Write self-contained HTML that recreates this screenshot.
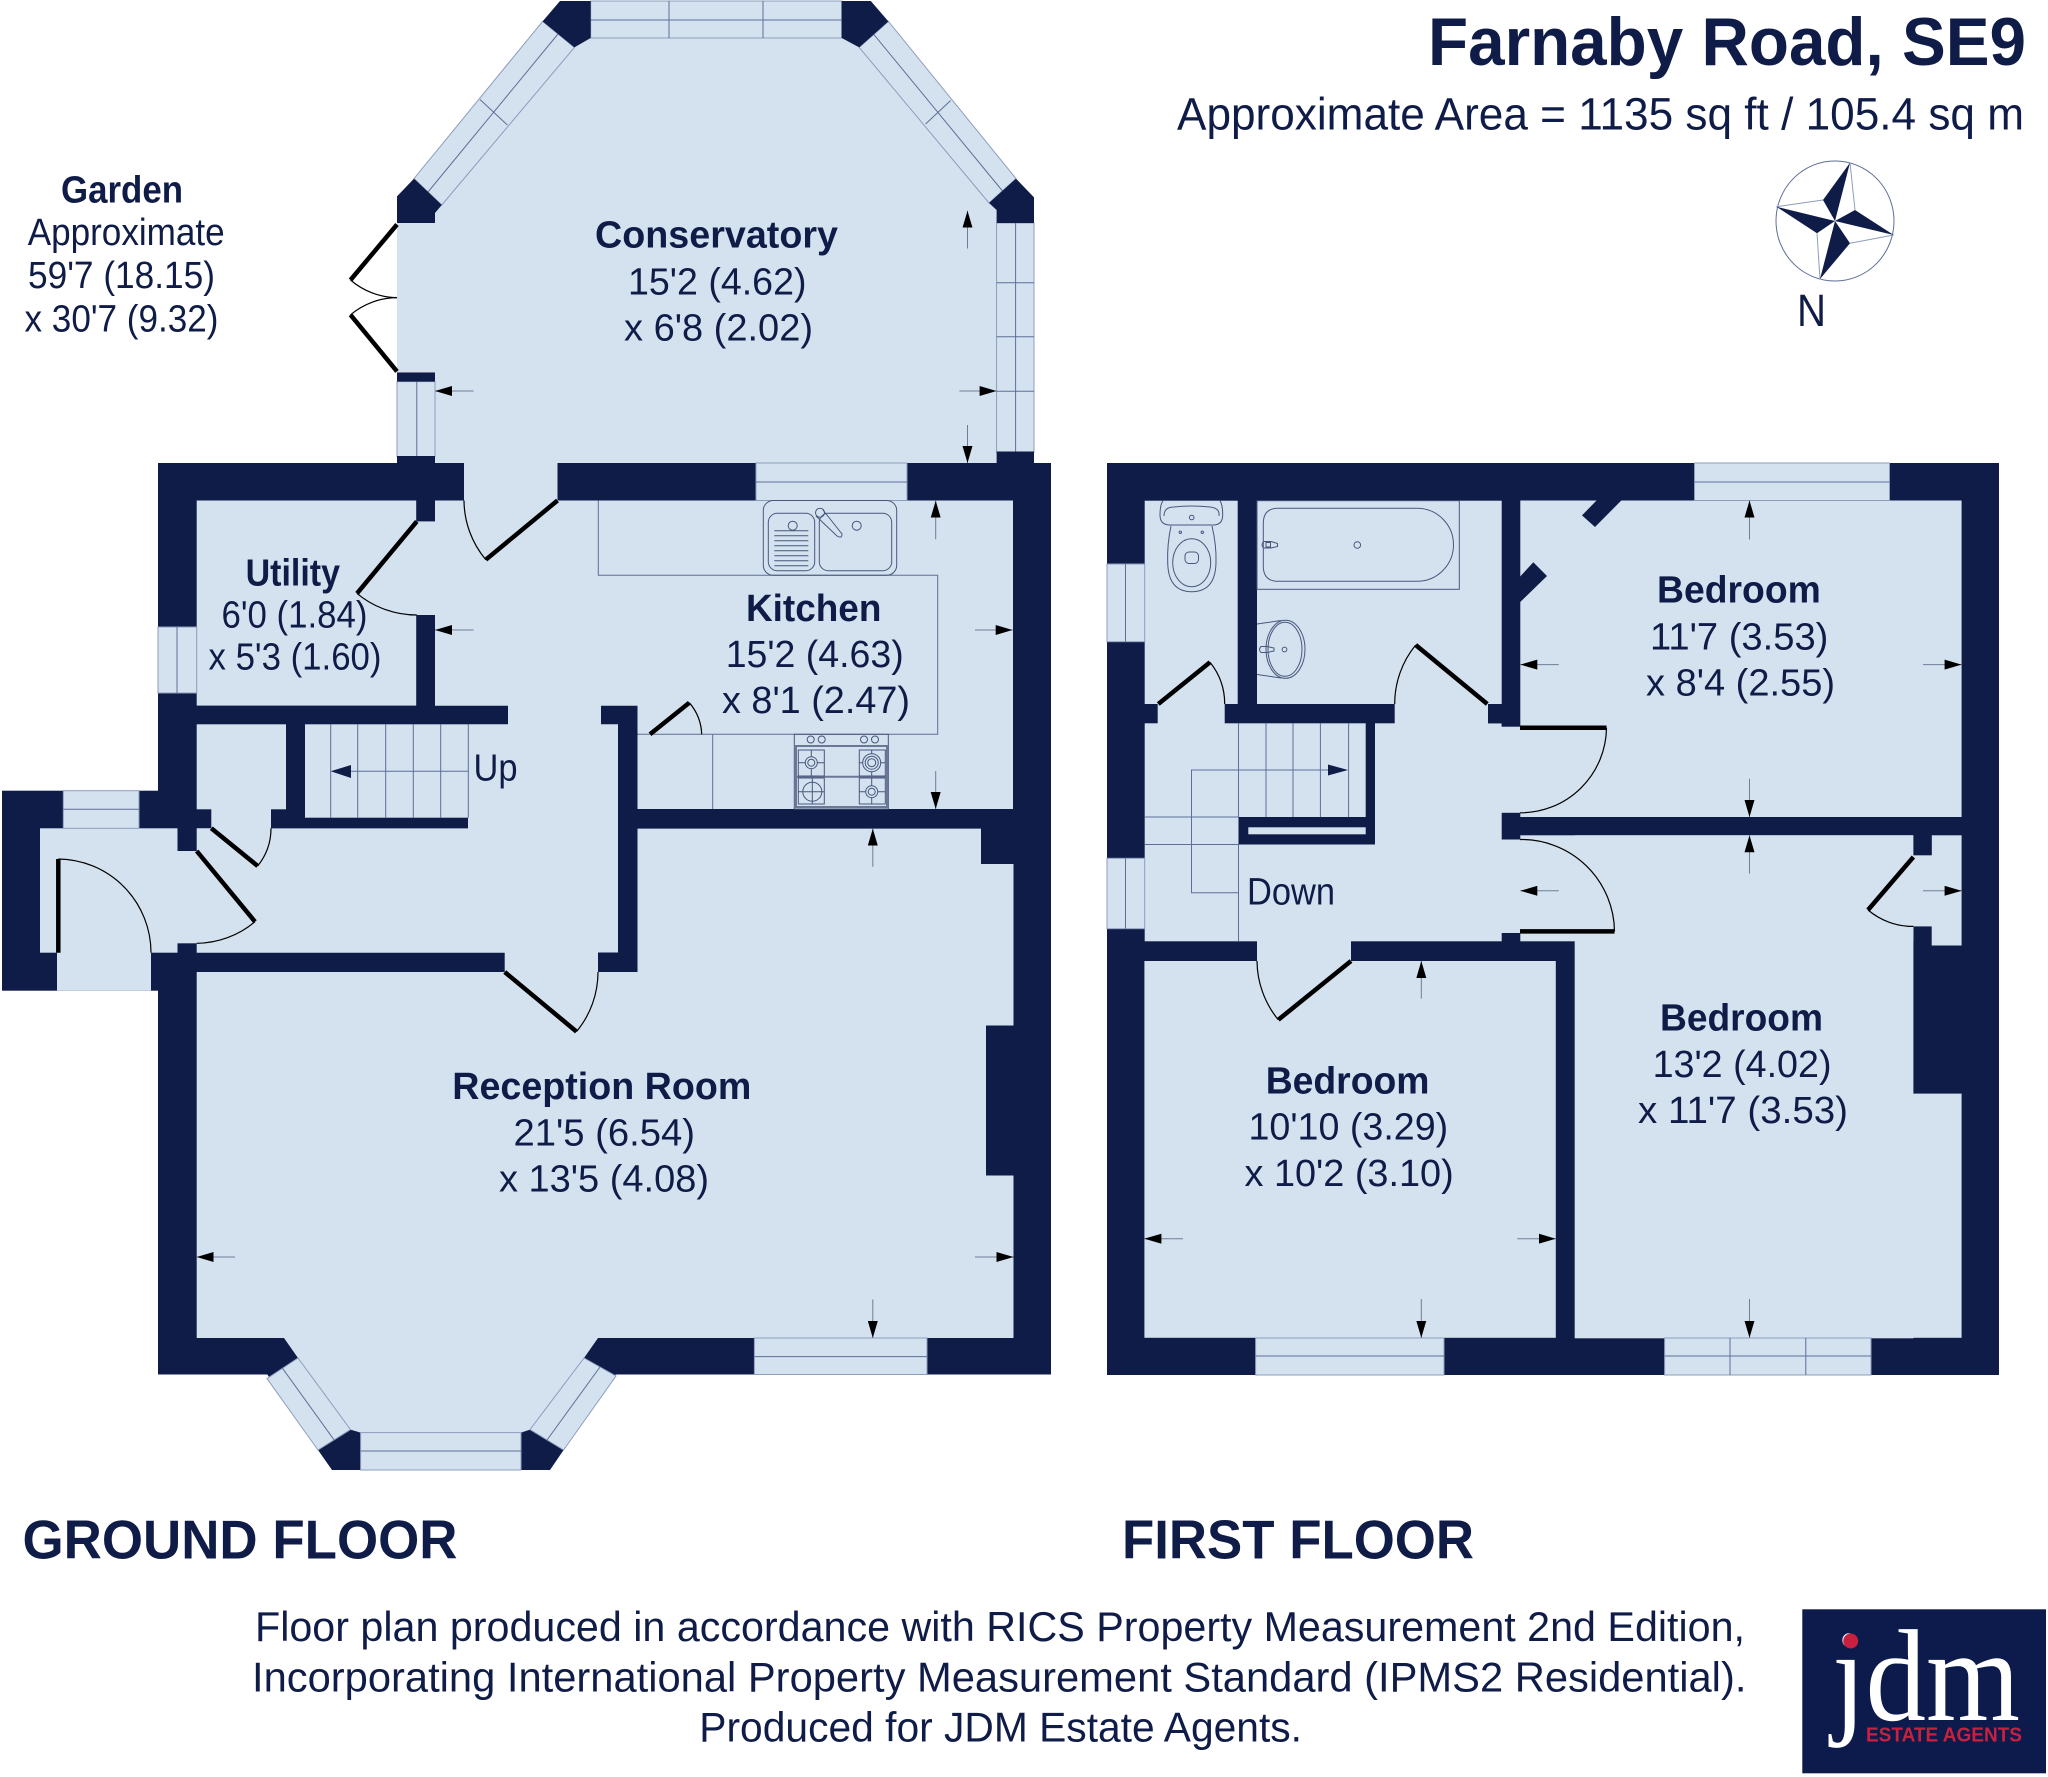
<!DOCTYPE html>
<html><head><meta charset="utf-8"><title>Farnaby Road, SE9</title>
<style>
html,body{margin:0;padding:0;background:#fff}
svg{display:block}
text{font-family:"Liberation Sans",Arial,sans-serif;fill:#101c48}
.b{font-weight:700;font-size:38px}
.r{font-size:38px}
.t{font-weight:700;font-size:55px}
.f{font-size:42px}
.d{fill:#101c48}
.l{fill:#d4e2f0}
.w{fill:#d4e2f0;stroke:#8c9dbd;stroke-width:1}
.n{fill:none;stroke:#5e6e96;stroke-width:1}
.leaf{stroke:#000;stroke-width:4.5;fill:none}
.arc{stroke:#000;stroke-width:1.2;fill:none}
.fx{fill:none;stroke:#48567c;stroke-width:1}
.ar{stroke:#6f7c98;stroke-width:1;marker-end:url(#a)}
</style></head><body>
<svg xmlns="http://www.w3.org/2000/svg" width="2048" height="1777" viewBox="0 0 2048 1777">
<defs><marker id="a" viewBox="0 0 17 10" refX="17" refY="5" markerWidth="17" markerHeight="10" markerUnits="userSpaceOnUse" orient="auto"><path d="M0 0L17 5L0 10Z" fill="#000"/></marker></defs>
<rect width="2048" height="1777" fill="#fff"/>

<!-- ===== GROUND FLOOR ===== -->
<!-- conservatory -->
<polygon class="l" points="574.4,47.4 590.7,38 841.7,38 859.2,47.4 989,203 996.6,210 996.6,464 435,464 435,372 397,372 397,223 435,223 435,213 441.8,205"/>
<polygon class="w" points="590.7,1 841.7,1 841.7,38 590.7,38"/>
<path class="n" d="M590.7 20H841.7M669 1V38M763 1V38"/>
<polygon class="w" points="542.6,21.4 574.4,47.4 441.8,205 414,178.6"/>
<path class="n" d="M558 34L428 192M480 99.5L507.4 125"/>
<polygon class="w" points="888.4,21.4 859.2,47.4 989,203 1016,178.6"/>
<path class="n" d="M873.8 34.4L1002.5 191M925.6 124L950.6 100.5"/>
<rect class="w" x="996.6" y="223" width="37.4" height="229"/>
<path class="n" d="M1015.6 223V452M996.6 282.7H1034M996.6 336.7H1034M996.6 391.3H1034"/>
<rect class="w" x="397" y="381.6" width="38" height="75"/>
<path class="n" d="M416.8 381.6V456"/>
<polygon class="d" points="560,1 590.7,1 590.7,38 574.4,47.4 542.6,21.4"/>
<polygon class="d" points="841.7,1 870.8,1 888.4,21.4 859.2,47.4 841.7,38"/>
<polygon class="d" points="414,178.6 441.8,205 435,213 435,223 397,223 397,196.4"/>
<polygon class="d" points="1016,178.6 1034,197.4 1034,223 996.6,223 996.6,210 989,203"/>
<rect class="d" x="397" y="372.4" width="38" height="9.2"/>
<rect class="d" x="397" y="456" width="38" height="8"/>
<rect class="d" x="996.6" y="451.5" width="37.4" height="12"/>

<!-- main walls -->
<rect class="d" x="158" y="463" width="893" height="911.5"/>
<rect class="d" x="2" y="790.7" width="156" height="200"/>
<polygon class="d" points="267,1374 318,1450 332,1470 550,1470 563.6,1450 616,1374"/>

<!-- rooms -->
<rect class="l" x="196.7" y="500.5" width="219.5" height="205.1"/>
<rect class="l" x="415" y="521.4" width="21" height="93.6"/>
<polygon class="l" points="435,500.5 1013,500.5 1013,809 637.5,809 637.5,705.7 601,705.7 601,724.3 618,724.3 618,952.7 196.7,952.7 196.7,828.3 468,828.3 468,724.3 508,724.3 508,705.7 435,705.7"/>
<polygon class="d" points="271,817.7 468,817.7 468,828.3 271,828.3"/>
<rect class="l" x="305" y="724.3" width="163" height="93.4"/>
<rect class="l" x="196.7" y="724.3" width="89.3" height="85"/>
<rect class="l" x="211.3" y="809" width="59.7" height="20"/>
<rect class="l" x="177" y="851" width="20.5" height="92.3"/>
<rect class="l" x="40" y="828.3" width="137.5" height="124.4"/>
<rect class="l" x="57" y="952" width="94" height="38.7"/>
<rect class="l" x="464" y="462" width="93.5" height="39"/>
<rect class="l" x="504.7" y="952" width="93.3" height="21"/>
<polygon class="l" points="196.7,972 637.5,972 637.5,828.6 981,828.6 981,864 1013.5,864 1013.5,1025.5 986,1025.5 986,1175.5 1013.5,1175.5 1013.5,1338 598,1338 584,1358 530,1429.6 521,1432.6 360.6,1432.6 350.5,1429.6 298,1358 284,1338 196.7,1338"/>
<polygon class="d" points="598,952.5 618,952.5 618,724 637.5,724 637.5,972 598,972"/>

<!-- ground windows -->
<rect class="w" x="63.3" y="790.7" width="75.7" height="37.6"/><path class="n" d="M63.3 809.3H139"/>
<rect class="w" x="158" y="627" width="38.7" height="66"/><path class="n" d="M177 627V693"/>
<rect class="w" x="756" y="463" width="151" height="37.5"/><path class="n" d="M756 482H907"/>
<rect class="w" x="754.4" y="1338" width="172.6" height="36.5"/><path class="n" d="M754.4 1356.6H927"/>
<polygon class="w" points="267,1378.6 298,1358 350.5,1429.6 318,1450"/><path class="n" d="M282.5 1368.3L334 1439.8"/>
<polygon class="w" points="584,1358 616,1376 563.6,1450 530,1429.6"/><path class="n" d="M600 1367L547 1440"/>
<rect class="w" x="360.6" y="1432.6" width="160.4" height="37.4"/><path class="n" d="M360.6 1451H521"/>

<!-- kitchen fittings -->
<path class="n" d="M598.3 500.5V575.3H937.7V734.3H637.5M712.7 734.3V809"/>
<rect class="fx" x="763.3" y="500.5" width="133.4" height="74.8" rx="10"/>
<rect class="fx" x="768.3" y="513.3" width="46.4" height="57.4" rx="9"/>
<rect class="fx" x="819.3" y="513.3" width="72.4" height="57.4" rx="9"/>
<path class="fx" d="M774.3 530.7H808.3M774.3 535.7H808.3M774.3 540.7H808.3M774.3 545.7H808.3M774.3 550.7H808.3M774.3 555.7H808.3M774.3 560.7H808.3M774.3 565.7H808.3"/>
<circle class="fx" cx="792.7" cy="525.7" r="4.5"/><circle class="fx" cx="856.7" cy="525.7" r="4.5"/>
<circle class="fx" cx="820" cy="512.7" r="4.5"/><path class="fx" d="M823 510L842 534Q842 539 837 536L816 516"/>
<rect class="fx" x="794.3" y="734.3" width="94" height="74.7"/>
<rect x="796" y="746" width="91" height="61" fill="none" stroke="#6a7795" stroke-width="2"/>
<path d="M796 776.7H887" stroke="#6a7795" stroke-width="2"/>
<rect class="fx" x="798.3" y="750" width="26" height="26"/><rect class="fx" x="859.3" y="750" width="26" height="26"/><rect class="fx" x="798.3" y="778" width="26" height="26"/><rect class="fx" x="859.3" y="778" width="26" height="26"/>
<path class="fx" d="M798.3 762.7H824.3M811.3 750V776M859.3 762.7H885.3M871.7 750V776M798.3 791.7H824.3M812.3 778V804M859.3 791.7H885.3M871.7 778V804"/>
<circle class="l" cx="811.3" cy="762.7" r="6"/><circle class="fx" cx="811.3" cy="762.7" r="6"/><circle class="fx" cx="811.3" cy="762.7" r="3.5"/>
<circle class="l" cx="871.7" cy="762.7" r="9"/><circle class="fx" cx="871.7" cy="762.7" r="9"/><circle class="fx" cx="871.7" cy="762.7" r="6.5"/><circle class="fx" cx="871.7" cy="762.7" r="4"/>
<circle class="fx" cx="812.3" cy="791.7" r="9.5"/>
<circle class="l" cx="871.7" cy="791.7" r="6"/><circle class="fx" cx="871.7" cy="791.7" r="6"/><circle class="fx" cx="871.7" cy="791.7" r="3.5"/>
<circle class="fx" cx="810.7" cy="739.5" r="3.5"/><circle class="fx" cx="821.7" cy="739.5" r="3.5"/><circle class="fx" cx="864" cy="739.5" r="3.5"/><circle class="fx" cx="875" cy="739.5" r="3.5"/>

<!-- ground stairs -->
<path class="n" d="M330.7 724.3V817.7M357.7 724.3V817.7M385.7 724.3V817.7M413.3 724.3V817.7M440.7 724.3V817.7M468.3 724.3V817.7M351 771.3H468"/>
<polygon class="d" points="330.7,771.3 351,765 351,778"/>

<!-- ground doors -->
<path class="leaf" d="M557.5 500.5L485.8 559.7"/><path class="arc" d="M464 500.5A93 93 0 0 0 485.8 559.7"/>
<path class="leaf" d="M416.8 521.4L357 593.4"/><path class="arc" d="M357 593.4A93.6 93.6 0 0 0 416.8 615"/>
<path class="leaf" d="M397 224.5L350.5 280"/><path class="arc" d="M350.5 280A72.5 72.5 0 0 0 397 297.6"/>
<path class="leaf" d="M397 371.4L350.5 314.8"/><path class="arc" d="M350.5 314.8A73 73 0 0 1 397 297.6"/>
<path class="leaf" d="M650 734.3L689.3 702.7"/><path class="arc" d="M689.3 702.7A51 51 0 0 1 701.7 734.3"/>
<path class="leaf" d="M211.3 828.3L257.7 866"/><path class="arc" d="M257.7 866A60 60 0 0 0 271 828.3"/>
<path class="leaf" d="M196.7 851L255 921.7"/><path class="arc" d="M255 921.7A92 92 0 0 1 196.7 943.3"/>
<path class="leaf" d="M504.7 972L576.5 1031.6"/><path class="arc" d="M576.5 1031.6A93.3 93.3 0 0 0 598 972"/>
<path class="leaf" d="M58.3 859V952.7"/><path class="arc" d="M58.3 859A93.7 93.7 0 0 1 151 952.7"/>

<!-- ground dims -->
<g class="ar">
<line x1="473.6" y1="391" x2="435" y2="391"/><line x1="959.4" y1="391" x2="996.6" y2="391"/>
<line x1="967.5" y1="248.5" x2="967.5" y2="210.7"/><line x1="967.5" y1="425" x2="967.5" y2="463"/>
<line x1="935.7" y1="539.3" x2="935.7" y2="500.7"/><line x1="935.7" y1="771" x2="935.7" y2="809"/>
<line x1="975" y1="630" x2="1012.7" y2="630"/><line x1="473.6" y1="630" x2="435" y2="630"/>
<line x1="872.8" y1="866.8" x2="872.8" y2="828.6"/><line x1="872.8" y1="1299.5" x2="872.8" y2="1338"/>
<line x1="235" y1="1257" x2="196.7" y2="1257"/><line x1="975" y1="1257" x2="1013.5" y2="1257"/>
</g>

<!-- ===== FIRST FLOOR ===== -->
<rect class="d" x="1107" y="463" width="892" height="912"/>
<rect class="l" x="1144.7" y="500.7" width="93" height="203.3"/>
<rect class="l" x="1257" y="500.7" width="244.7" height="203.3"/>
<rect class="l" x="1157.7" y="703" width="67" height="21"/>
<rect class="l" x="1394.7" y="703" width="93.3" height="21"/>
<rect class="l" x="1144.7" y="723.3" width="357" height="218"/>
<rect class="d" x="1488" y="704" width="32.3" height="19.3"/>
<rect class="d" x="1501.7" y="704" width="18.6" height="22.7"/>
<rect class="l" x="1501" y="726.7" width="20" height="86.1"/>
<rect class="l" x="1501" y="839.5" width="20" height="93.5"/>
<rect class="l" x="1257" y="940" width="94" height="22"/>
<rect class="l" x="1520.3" y="500.5" width="441.3" height="316.5"/>
<polygon class="d" points="1597,500 1621.8,500 1595,527 1582,515.4"/>
<polygon class="d" points="1520,576.7 1533.3,562.3 1547,576 1520,602.3"/>
<rect class="l" x="1520.3" y="835.3" width="393.1" height="106"/>
<rect class="l" x="1574.7" y="835.3" width="338.7" height="503"/>
<rect class="l" x="1913" y="1093.6" width="48.6" height="244.2"/>
<rect class="l" x="1931.7" y="835.3" width="29.9" height="110.2"/>
<rect class="l" x="1912.5" y="855.2" width="20" height="71.2"/>
<rect class="d" x="1913.4" y="835.3" width="18.3" height="19.9"/>
<rect class="l" x="1144.4" y="961" width="411.4" height="376.8"/>
<!-- stair walls -->
<rect class="d" x="1365.7" y="723" width="9.3" height="121.5"/>
<rect class="d" x="1238.5" y="817" width="136.5" height="27.5"/>
<rect class="l" x="1248.3" y="827.3" width="117.4" height="7"/>
<path class="n" d="M1238.5 723.3V817M1266 723.3V817M1293 723.3V817M1320.4 723.3V817M1348.6 723.3V817M1144.7 817H1238.5M1144.7 844.5H1238.5M1238.5 844.5V941M1238.5 892.8H1191.5V770H1328"/>
<polygon class="d" points="1348,770 1328,764.5 1328,775.5"/>
<!-- first windows -->
<rect class="w" x="1107" y="564" width="37.7" height="77.7"/><path class="n" d="M1125.5 564V641.7"/>
<rect class="w" x="1107" y="858.3" width="37.7" height="70.4"/><path class="n" d="M1125.5 858.3V928.7"/>
<rect class="w" x="1694.5" y="463" width="195" height="37.5"/><path class="n" d="M1694.5 482H1889.5"/>
<rect class="w" x="1255.6" y="1338" width="188.4" height="37"/><path class="n" d="M1255.6 1356H1444"/>
<rect class="w" x="1664.6" y="1338" width="206.4" height="37"/><path class="n" d="M1664.6 1356H1871M1730 1338V1375M1805.8 1338V1375"/>
<!-- first doors -->
<path class="leaf" d="M1158.3 704L1210 662.3"/><path class="arc" d="M1210 662.3A66.4 66.4 0 0 1 1224.7 704"/>
<path class="leaf" d="M1487.3 704L1415.7 645"/><path class="arc" d="M1415.7 645A92.8 92.8 0 0 0 1394.7 704"/>
<path class="leaf" d="M1520 727.8H1606.5"/><path class="arc" d="M1606.5 727.8A86 86 0 0 1 1520 812.8"/>
<path class="leaf" d="M1520 931.4H1614.5"/><path class="arc" d="M1614.5 931.4A93 93 0 0 0 1520 839.5"/>
<path class="leaf" d="M1351 961L1278.3 1019.8"/><path class="arc" d="M1278.3 1019.8A94 94 0 0 1 1257 961"/>
<path class="leaf" d="M1913.4 857L1868 910"/><path class="arc" d="M1868 910A69.6 69.6 0 0 0 1913.4 926.4"/>
<!-- WC / bath -->
<path class="fx" d="M1163 500.7Q1160 505 1160 515Q1160 525 1170 525H1213Q1222.7 525 1222.7 515Q1222.7 505 1220 500.7"/>
<path class="fx" d="M1164 516Q1164 507 1174 507Q1191 505 1210 507Q1220 508 1219 516"/>
<circle class="fx" cx="1191.7" cy="517.5" r="2.3"/><circle class="fx" cx="1180.3" cy="532.3" r="1.2"/><circle class="fx" cx="1202.3" cy="532.3" r="1.2"/>
<path class="fx" d="M1171 526Q1167 545 1167.7 562Q1168 591.7 1191.7 591.7Q1215.7 591.7 1216 562Q1216.5 545 1212 526"/>
<ellipse class="fx" cx="1191.7" cy="562.7" rx="19" ry="24"/>
<rect class="fx" x="1185" y="552" width="13.5" height="11.5" rx="4"/>
<rect class="fx" x="1257" y="500.7" width="202.3" height="88.6"/>
<path class="fx" d="M1278 508.3H1417A36.5 36.5 0 0 1 1417 581.3H1278Q1263.3 581.3 1263.3 566V523.5Q1263.3 508.3 1278 508.3Z"/>
<circle class="fx" cx="1357.3" cy="545" r="3.3"/>
<path class="fx" d="M1264 541.5Q1260 545 1264 548H1271L1277.5 546.5V543.5L1271 541.5Z"/><rect class="fx" x="1266" y="542.5" width="4.5" height="4.5"/>
<ellipse class="fx" cx="1285" cy="649.3" rx="17" ry="27"/><ellipse class="fx" cx="1285.5" cy="649.3" rx="19.5" ry="29"/>
<path class="fx" d="M1257 624L1281 620.5M1257 674.5L1281 678"/>
<circle class="fx" cx="1284.5" cy="649.5" r="2.4"/><path class="fx" d="M1261 646.5Q1258 649.5 1261 652.5H1267L1274 651V648L1267 646.5Z"/>
<!-- first dims -->
<g class="ar">
<line x1="1749.5" y1="539.5" x2="1749.5" y2="500.5"/><line x1="1749.5" y1="778.7" x2="1749.5" y2="817"/>
<line x1="1558.8" y1="664.6" x2="1520.3" y2="664.6"/><line x1="1923" y1="664.6" x2="1961.6" y2="664.6"/>
<line x1="1749.5" y1="873.6" x2="1749.5" y2="835.3"/><line x1="1749.5" y1="1299" x2="1749.5" y2="1337.8"/>
<line x1="1558.8" y1="890.8" x2="1520.3" y2="890.8"/><line x1="1923" y1="890.8" x2="1961.6" y2="890.8"/>
<line x1="1421.3" y1="998.7" x2="1421.3" y2="961"/><line x1="1421.3" y1="1299" x2="1421.3" y2="1337.8"/>
<line x1="1183" y1="1238.7" x2="1144.4" y2="1238.7"/><line x1="1517.3" y1="1238.7" x2="1555.8" y2="1238.7"/>
</g>

<!-- Room labels -->
<text class="b" x="61" y="202.6" textLength="122" lengthAdjust="spacingAndGlyphs">Garden</text>
<text class="r" x="27.7" y="245" textLength="197" lengthAdjust="spacingAndGlyphs">Approximate</text>
<text class="r" x="28" y="288" textLength="187" lengthAdjust="spacingAndGlyphs">59'7 (18.15)</text>
<text class="r" x="24.5" y="331.6" textLength="194" lengthAdjust="spacingAndGlyphs">x 30'7 (9.32)</text>

<text class="b" x="595" y="247.4" textLength="243" lengthAdjust="spacingAndGlyphs">Conservatory</text>
<text class="r" x="628" y="294.4" textLength="178.5" lengthAdjust="spacingAndGlyphs">15'2 (4.62)</text>
<text class="r" x="624" y="340.3" textLength="189" lengthAdjust="spacingAndGlyphs">x 6'8 (2.02)</text>

<text class="b" x="245.6" y="585.5" textLength="94.4" lengthAdjust="spacingAndGlyphs">Utility</text>
<text class="r" x="221.5" y="627.5" textLength="146" lengthAdjust="spacingAndGlyphs">6'0 (1.84)</text>
<text class="r" x="208.5" y="669.4" textLength="173" lengthAdjust="spacingAndGlyphs">x 5'3 (1.60)</text>

<text class="b" x="746" y="621" textLength="135.4" lengthAdjust="spacingAndGlyphs">Kitchen</text>
<text class="r" x="725.7" y="667" textLength="178" lengthAdjust="spacingAndGlyphs">15'2 (4.63)</text>
<text class="r" x="722" y="713" textLength="188" lengthAdjust="spacingAndGlyphs">x 8'1 (2.47)</text>

<text class="r" x="473.5" y="780.6" textLength="44" lengthAdjust="spacingAndGlyphs">Up</text>

<text class="b" x="452.3" y="1099" textLength="299" lengthAdjust="spacingAndGlyphs">Reception Room</text>
<text class="r" x="513.5" y="1145.4" textLength="181.5" lengthAdjust="spacingAndGlyphs">21'5 (6.54)</text>
<text class="r" x="499" y="1191.3" textLength="210" lengthAdjust="spacingAndGlyphs">x 13'5 (4.08)</text>

<text class="b" x="1657" y="602.6" textLength="163.8" lengthAdjust="spacingAndGlyphs">Bedroom</text>
<text class="r" x="1650" y="649.7" textLength="178.4" lengthAdjust="spacingAndGlyphs">11'7 (3.53)</text>
<text class="r" x="1646" y="695.3" textLength="189" lengthAdjust="spacingAndGlyphs">x 8'4 (2.55)</text>

<text class="b" x="1660" y="1030.5" textLength="163" lengthAdjust="spacingAndGlyphs">Bedroom</text>
<text class="r" x="1652.6" y="1076.8" textLength="178.9" lengthAdjust="spacingAndGlyphs">13'2 (4.02)</text>
<text class="r" x="1638" y="1123" textLength="210" lengthAdjust="spacingAndGlyphs">x 11'7 (3.53)</text>

<text class="b" x="1265.7" y="1093.3" textLength="163.8" lengthAdjust="spacingAndGlyphs">Bedroom</text>
<text class="r" x="1248.5" y="1139.6" textLength="199.7" lengthAdjust="spacingAndGlyphs">10'10 (3.29)</text>
<text class="r" x="1244.5" y="1185.9" textLength="209.2" lengthAdjust="spacingAndGlyphs">x 10'2 (3.10)</text>

<text class="r" x="1247" y="904.6" textLength="88" lengthAdjust="spacingAndGlyphs">Down</text>

<!-- Title -->
<text x="1428" y="65" style="font-weight:700;font-size:68px" textLength="598" lengthAdjust="spacingAndGlyphs">Farnaby Road, SE9</text>
<text x="1177" y="129.3" style="font-size:45px" textLength="847" lengthAdjust="spacingAndGlyphs">Approximate Area = 1135 sq ft / 105.4 sq m</text>

<!-- Compass -->
<ellipse cx="1835" cy="221" rx="59" ry="60" fill="none" stroke="#5e6e96" stroke-width="1"/>
<path fill="none" stroke="#8c9dbd" stroke-width="1" d="M1850 162.7L1855 210M1893.7 235L1850 243.3M1820 279L1817 233.3M1776.3 206.7L1823 200"/>
<polygon class="d" points="1850,162.7 1823,200 1835,221"/>
<polygon class="d" points="1893.7,235 1855,210 1835,221"/>
<polygon class="d" points="1820,279 1850,243.3 1835,221"/>
<polygon class="d" points="1776.3,206.7 1817,233.3 1835,221"/>
<text x="1797" y="326" style="font-size:45px" textLength="29" lengthAdjust="spacingAndGlyphs">N</text>

<!-- Floor titles -->
<text class="t" x="22.5" y="1558.7" textLength="435" lengthAdjust="spacingAndGlyphs">GROUND FLOOR</text>
<text class="t" x="1122" y="1558.7" textLength="352" lengthAdjust="spacingAndGlyphs">FIRST FLOOR</text>

<!-- Footer -->
<text class="f" x="255" y="1641" textLength="1490" lengthAdjust="spacingAndGlyphs">Floor plan produced in accordance with RICS Property Measurement 2nd Edition,</text>
<text class="f" x="252" y="1691.3" textLength="1494.4" lengthAdjust="spacingAndGlyphs">Incorporating International Property Measurement Standard (IPMS2 Residential).</text>
<text class="f" x="699.3" y="1741.3" textLength="602.7" lengthAdjust="spacingAndGlyphs">Produced for JDM Estate Agents.</text>

<!-- Logo -->
<rect x="1802.3" y="1609.3" width="243.7" height="164" fill="#0c1b4b"/>
<text x="1832" y="1720" style="font-family:'Liberation Serif',serif;font-size:131px;fill:#fff" textLength="188" lengthAdjust="spacingAndGlyphs">jdm</text>
<circle cx="1850.7" cy="1641" r="7.5" fill="#c8203f"/>
<text x="1866" y="1741.7" style="font-weight:700;font-size:20px;fill:#c8203f" textLength="156" lengthAdjust="spacingAndGlyphs">ESTATE AGENTS</text>
</svg>
</body></html>
